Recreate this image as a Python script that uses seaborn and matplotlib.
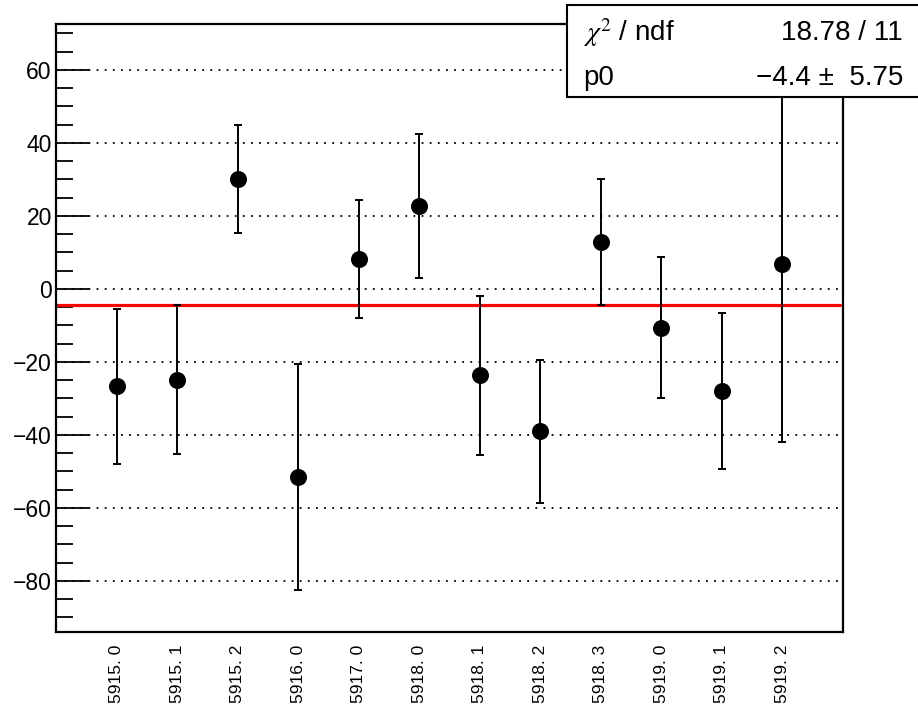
import numpy as np
import pandas as pd
import matplotlib
matplotlib.use("Agg")
import matplotlib.pyplot as plt
import seaborn as sns
from matplotlib.patches import Rectangle

# values
run_labels = ["5915. 0", "5915. 1", "5915. 2", "5916. 0", "5917. 0", "5918. 0",
              "5918. 1", "5918. 2", "5918. 3", "5919. 0", "5919. 1", "5919. 2"]
values = [-26.7, -24.9, 30.1, -51.6, 8.2, 22.7, -23.6, -39.0, 12.9, -10.6, -27.9, 6.9]
errors = [21.3, 20.4, 14.8, 31.0, 16.2, 19.7, 21.8, 19.6, 17.3, 19.4, 21.4, 48.8]
fit_p0 = -4.4
fit_p0_err = 5.75
chi2_text = "18.78 / 11"

sns.set_style("ticks")
plt.rcParams["font.family"] = ["Liberation Sans", "DejaVu Sans"]
plt.rcParams["mathtext.fontset"] = "stix"
plt.rcParams["text.color"] = "black"
plt.rcParams["xtick.color"] = "black"
plt.rcParams["ytick.color"] = "black"
plt.rcParams["axes.edgecolor"] = "black"

df = pd.DataFrame({"bin": np.arange(1, len(values) + 1), "value": values, "err": errors})

fig = plt.figure(figsize=(9.18, 7.18), dpi=100)
ax = fig.add_axes([56 / 918, 1 - 632 / 718, (843 - 56) / 918, (632 - 24) / 718])

ax.set_xlim(0, 13)
ax.set_ylim(-94, 72.6)

# y grid (dotted, major only)
for yv in np.arange(-80, 61, 20):
    ax.axhline(yv, color="black", lw=1.3, ls=(0, (1, 3.5)), zorder=1)

# fit line
ax.plot([0, 12.95], [fit_p0, fit_p0], color="#ff0000", lw=2.3, zorder=2)

ax.errorbar(df["bin"], df["value"], yerr=df["err"], fmt="none", ecolor="black",
            elinewidth=1.4, capsize=3, capthick=1.4, zorder=3)
sns.scatterplot(data=df, x="bin", y="value", color="black", s=150, edgecolor="black",
                linewidth=0, ax=ax, zorder=4)

ax.set_xticks(df["bin"])
ax.set_xticklabels(run_labels, rotation=90, fontsize=12.5)
ax.tick_params(axis="x", length=0, pad=9)
ax.set_yticks(np.arange(-80, 61, 20))
ax.set_yticks(np.arange(-90, 71, 5), minor=True)
ax.tick_params(axis="y", which="major", direction="in", length=24, width=1.3, labelsize=16.5, pad=3)
ax.tick_params(axis="y", which="minor", direction="in", length=12, width=1.3)
ax.set_xlabel("")
ax.set_ylabel("")
for s in ax.spines.values():
    s.set_linewidth(1.6)

# stats box
fig.patches.append(Rectangle((567 / 918, 1 - 97 / 718), 0.5, 92 / 718,
                             transform=fig.transFigure, facecolor="white",
                             edgecolor="black", lw=1.5, zorder=10))
fig.text(583 / 918, 1 - 33 / 718, r"$\chi^{2}$ / ndf", fontsize=20, va="center", ha="left", zorder=11)
fig.text(903 / 918, 1 - 33 / 718, chi2_text, fontsize=20, va="center", ha="right", zorder=11)
fig.text(583 / 918, 1 - 78 / 718, "p0", fontsize=20, va="center", ha="left", zorder=11)
fig.text(903 / 918, 1 - 78 / 718, f"\u2212{abs(fit_p0)} \u00b1  {fit_p0_err}", fontsize=20,
         va="center", ha="right", zorder=11)

fig.savefig("out.png", dpi=100)
